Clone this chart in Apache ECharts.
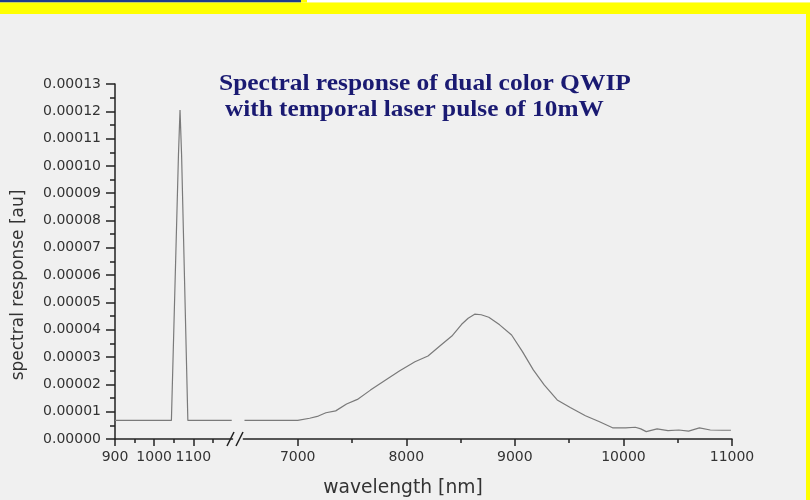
<!DOCTYPE html>
<html><head><meta charset="utf-8">
<script src="https://cdn.jsdelivr.net/npm/echarts@6/dist/echarts.min.js"></script>
<style>html,body{margin:0;padding:0;background:#fff}#c{width:810px;height:500px}</style>
</head><body><div id="c"></div>
<script>
// ---- data ----
const titleLines = ['Spectral response of dual color QWIP', 'with temporal laser pulse of 10mW'];
const xName = 'wavelength [nm]';
const yName = 'spectral response [au]';
const yMin = 0, yMax = 0.00013, yStep = 0.00001;
const seg1Range = [900, 1200];
const seg2Range = [6500, 11000];
const seg1MajorTicks = [900, 1100, 100];
const seg1MinorTicks = [950, 1150, 100];
const seg2MajorTicks = [7000, 11000, 1000];
const seg2MinorTicks = [7500, 10500, 1000];
const seg1Wavelength = [900, 1044, 1062, 1066, 1070, 1086, 1198];
const seg1Response = [0.0000068, 0.0000068, 0.000104, 0.0001205, 0.000104, 0.0000068, 0.0000068];
const seg2Wavelength = [6510, 7000, 7110, 7190, 7260, 7350, 7450, 7550, 7670, 7810, 7940, 8080, 8200, 8320, 8420, 8510, 8570, 8630, 8690, 8760, 8860, 8970, 9070, 9170, 9270, 9390, 9510, 9650, 9780, 9900, 10020, 10110, 10160, 10210, 10310, 10410, 10510, 10600, 10700, 10800, 10910, 10990];
const seg2Response = [0.0000068, 0.0000068, 0.0000076, 0.0000084, 0.0000096, 0.0000103, 0.0000128, 0.0000145, 0.0000179, 0.0000216, 0.000025, 0.0000283, 0.0000304, 0.0000344, 0.0000377, 0.000042, 0.0000442, 0.0000457, 0.0000455, 0.0000446, 0.0000418, 0.0000381, 0.000032, 0.0000253, 0.0000198, 0.0000143, 0.0000115, 0.0000085, 0.0000063, 0.0000041, 0.0000041, 0.0000043, 0.0000037, 0.0000027, 0.0000037, 0.0000031, 0.0000033, 0.0000029, 0.0000041, 0.0000033, 0.0000032, 0.0000032];

// ---- layout ----
const gTop = 84, gHeight = 355;
const s1Left = 115, s1Scale = 0.3917;   // px per nm
const s2Left = 243.4, s2Scale = 0.10858;
const axisColor = '#222';
const labelFont = {fontFamily: 'DejaVu Sans', fontSize: 14, color: '#333'};

const grids = [
  {left: s1Left, top: gTop, height: gHeight, width: (seg1Range[1]-seg1Range[0])*s1Scale},
  {left: s1Left + (seg1MinorTicks[0]-seg1Range[0])*s1Scale, top: gTop, height: gHeight, width: (seg1MinorTicks[1]-seg1MinorTicks[0])*s1Scale},
  {left: s1Left + (seg1MajorTicks[0]-seg1Range[0])*s1Scale, top: gTop, height: gHeight, width: (seg1MajorTicks[1]-seg1MajorTicks[0])*s1Scale},
  {left: s2Left, top: gTop, height: gHeight, width: (seg2Range[1]-seg2Range[0])*s2Scale},
  {left: s2Left + (seg2MinorTicks[0]-seg2Range[0])*s2Scale, top: gTop, height: gHeight, width: (seg2MinorTicks[1]-seg2MinorTicks[0])*s2Scale},
  {left: s2Left + (seg2MajorTicks[0]-seg2Range[0])*s2Scale, top: gTop, height: gHeight, width: (seg2MajorTicks[1]-seg2MajorTicks[0])*s2Scale}
];

function xAx(gi, min, max, interval, mode) {
  return {
    type: 'value', gridIndex: gi, min: min, max: max, interval: interval, position: 'bottom',
    axisLine: {show: mode === 'line', onZero: false, lineStyle: {color: axisColor, width: 1.5}},
    axisTick: {show: mode !== 'line', inside: false, length: mode === 'major' ? 7 : 4, lineStyle: {color: axisColor, width: 1.5}},
    axisLabel: {show: mode === 'major', margin: 11, formatter: v => String(v), showMinLabel: true, showMaxLabel: true, hideOverlap: false, ...labelFont},
    splitLine: {show: false}
  };
}
const xAxes = [
  xAx(0, seg1Range[0], seg1Range[1], 100, 'line'),
  xAx(1, seg1MinorTicks[0], seg1MinorTicks[1], seg1MinorTicks[2], 'minor'),
  xAx(2, seg1MajorTicks[0], seg1MajorTicks[1], seg1MajorTicks[2], 'major'),
  xAx(3, seg2Range[0], seg2Range[1], 500, 'line'),
  xAx(4, seg2MinorTicks[0], seg2MinorTicks[1], seg2MinorTicks[2], 'minor'),
  xAx(5, seg2MajorTicks[0], seg2MajorTicks[1], seg2MajorTicks[2], 'major')
];
const yAxes = [0,1,2,3,4,5].map(gi => gi === 0 ? {
  type: 'value', gridIndex: 0, min: yMin, max: yMax, interval: yStep,
  axisLine: {show: true, lineStyle: {color: axisColor, width: 1.5}},
  axisTick: {show: true, inside: false, length: 9, lineStyle: {color: axisColor, width: 1.5}},
  minorTick: {show: true, splitNumber: 2, length: 5, lineStyle: {color: axisColor, width: 1.5}},
  axisLabel: {margin: 14, formatter: v => v.toFixed(5), ...labelFont},
  splitLine: {show: false}
} : {type: 'value', gridIndex: gi, min: yMin, max: yMax, show: false, splitLine: {show: false}});

const lineStyle = {color: '#7a7a7a', width: 1.2};
const series = [
  {type: 'line', xAxisIndex: 0, yAxisIndex: 0, data: seg1Wavelength.map((w, i) => [w, seg1Response[i]]), showSymbol: false, symbol: 'none', lineStyle: lineStyle, animation: false},
  {type: 'line', xAxisIndex: 3, yAxisIndex: 3, data: seg2Wavelength.map((w, i) => [w, seg2Response[i]]), showSymbol: false, symbol: 'none', lineStyle: lineStyle, animation: false}
];

const titleStyle = {font: 'bold 23px "Liberation Serif"', fill: '#1a1a72'};
const graphics = [
  {type: 'rect', shape: {x: 0, y: 0, width: 810, height: 2.5}, style: {fill: '#ffffff'}},
  {type: 'rect', shape: {x: 0, y: 0, width: 301, height: 2.5}, style: {fill: '#1f3a8c'}},
  {type: 'rect', shape: {x: 301, y: 0, width: 6, height: 2.5}, style: {fill: '#ffff00'}},
  {type: 'rect', shape: {x: 0, y: 2.5, width: 810, height: 11.5}, style: {fill: '#ffff00'}},
  {type: 'rect', shape: {x: 806, y: 14, width: 4, height: 486}, style: {fill: '#ffff00'}},
  {type: 'text', x: 219, y: 84, scaleX: 1.107, style: {text: titleLines[0], ...titleStyle, align: 'left', verticalAlign: 'middle'}},
  {type: 'text', x: 225, y: 110, scaleX: 1.10, style: {text: titleLines[1], ...titleStyle, align: 'left', verticalAlign: 'middle'}},
  {type: 'text', x: 403, y: 488, style: {text: xName, font: '18.7px "DejaVu Sans"', fill: '#333', align: 'center', verticalAlign: 'middle'}},
  {type: 'text', x: 19, y: 285, rotation: Math.PI / 2, style: {text: yName, font: '17px "DejaVu Sans"', fill: '#333', align: 'center', verticalAlign: 'middle'}},
  {type: 'line', shape: {x1: 227, y1: 446, x2: 234, y2: 432}, style: {stroke: axisColor, lineWidth: 1.5}},
  {type: 'line', shape: {x1: 236, y1: 446, x2: 243, y2: 432}, style: {stroke: axisColor, lineWidth: 1.5}}
];

const chart = echarts.init(document.getElementById('c'), null, {renderer: 'canvas'});
chart.setOption({
  backgroundColor: '#f0f0f0',
  animation: false,
  grid: grids,
  xAxis: xAxes,
  yAxis: yAxes,
  series: series,
  graphic: graphics
});
</script>
</body></html>
